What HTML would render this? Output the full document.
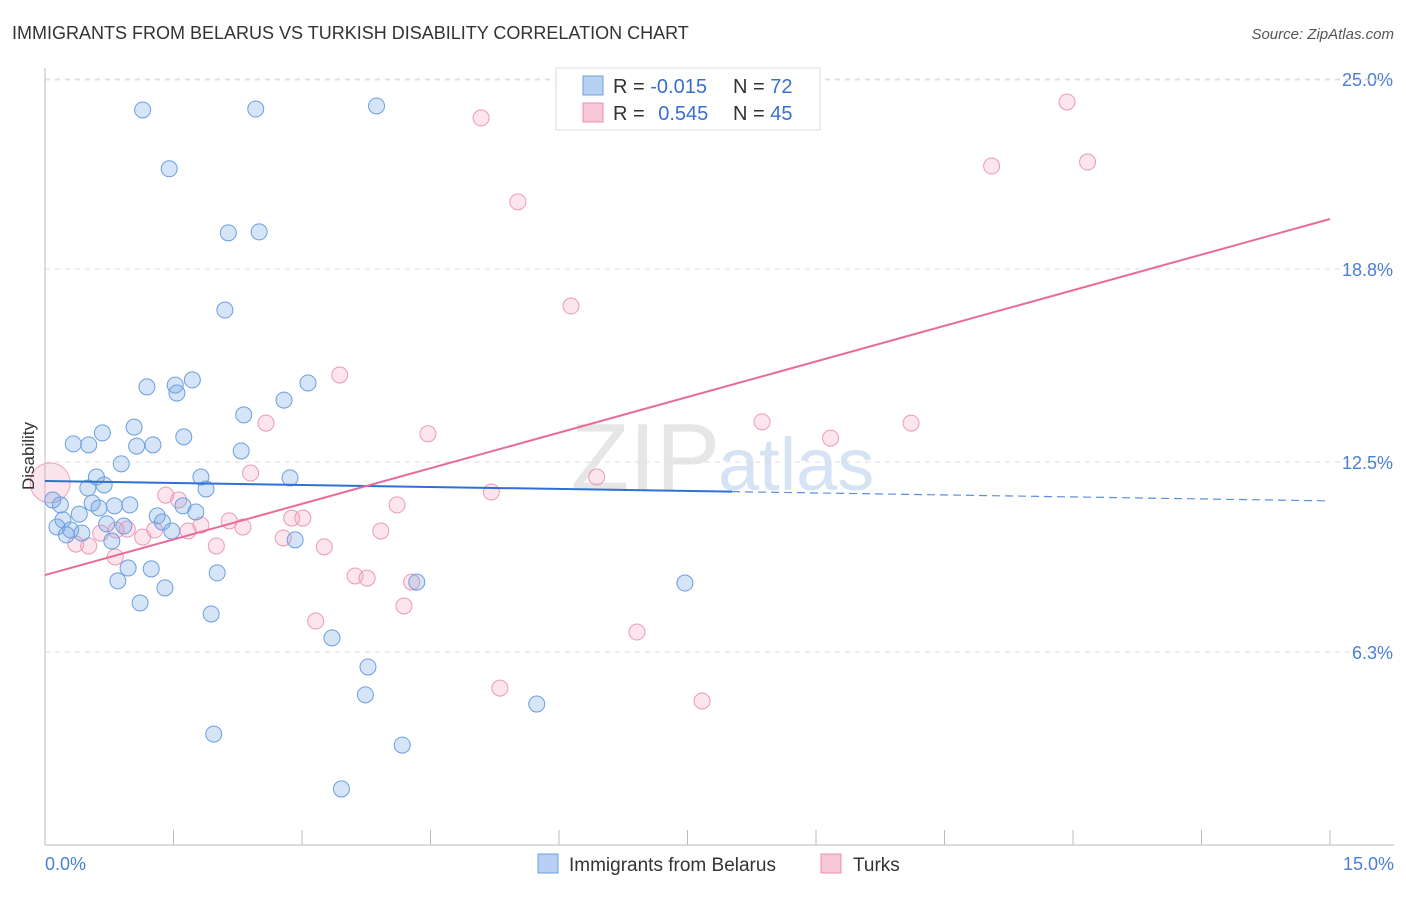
<!DOCTYPE html>
<html><head><meta charset="utf-8"><style>
body{margin:0;background:#fff;font-family:"Liberation Sans",sans-serif}
svg text{font-family:"Liberation Sans",sans-serif}
</style></head><body>
<svg id="chart" width="1406" height="892">
<text x="12" y="39" font-size="18" fill="#333">IMMIGRANTS FROM BELARUS VS TURKISH DISABILITY CORRELATION CHART</text>
<text x="1394" y="39" font-size="15" fill="#555" font-style="italic" text-anchor="end">Source: ZipAtlas.com</text>
<text x="720" y="490" font-size="96" fill="#e6e6e6" text-anchor="end" font-family="Liberation Serif">ZIP</text>
<text x="718" y="490" font-size="74" fill="#d6e3f5">atlas</text>
<g id="grid"></g><g id="axes"></g><g id="pts"></g><g id="trends"></g>
<text x="34" y="456" font-size="17" fill="#333" text-anchor="middle" transform="rotate(-90 34 456)">Disability</text>
<text x="45" y="870" font-size="18" fill="#4a7fd4">0.0%</text>
<text x="1394" y="870" font-size="18" fill="#4a7fd4" text-anchor="end">15.0%</text>
<g>
<rect x="556" y="68" width="264" height="62" fill="#fff" stroke="#ddd"/>
<rect x="583" y="76" width="20" height="19" fill="#b8d0f2" stroke="#6a9fe0"/>
<rect x="583" y="103" width="20" height="19" fill="#f8c8d8" stroke="#e890b0"/>
<text x="613" y="93" font-size="20" fill="#333">R = <tspan fill="#3a6fd0">-0.015</tspan></text>
<text x="733" y="93" font-size="20" fill="#333">N = <tspan fill="#3a6fd0">72</tspan></text>
<text x="613" y="120" font-size="20" fill="#333">R = <tspan fill="#3a6fd0" dx="8">0.545</tspan></text>
<text x="733" y="120" font-size="20" fill="#333">N = <tspan fill="#3a6fd0">45</tspan></text>
</g>
<g>
<rect x="538" y="854" width="20" height="19" fill="#b8d0f2" stroke="#6a9fe0"/>
<text x="569" y="871" font-size="19" fill="#333">Immigrants from Belarus</text>
<rect x="821" y="854" width="20" height="19" fill="#f8c8d8" stroke="#e890b0"/>
<text x="853" y="871" font-size="19" fill="#333">Turks</text>
</g>
</svg>
<script>
const yTicks=[6.3,12.5,18.8,25.0];
const yTickLabels=["6.3%","12.5%","18.8%","25.0%"];
const blueX=[1.14,2.46,3.87,1.45,2.14,2.50,2.10,1.19,1.52,1.72,1.54,3.07,2.79,2.32,1.04,0.67,0.33,0.51,1.07,1.26,1.62,2.29,0.89,0.60,0.69,0.50,1.82,1.88,2.86,0.09,0.18,0.55,0.63,0.81,0.99,1.61,1.76,0.40,0.21,0.14,0.72,0.92,1.31,1.37,1.48,0.30,0.43,0.25,0.78,2.92,0.97,1.24,2.01,0.85,1.40,4.34,7.47,1.11,1.94,3.35,3.77,3.74,5.74,1.97,4.17,3.46,6.08];
const blueY=[23.99,24.02,24.12,22.07,19.98,20.01,17.46,14.95,15.01,15.18,14.75,15.08,14.52,14.04,13.64,13.45,13.09,13.06,13.02,13.06,13.32,12.86,12.44,12.01,11.75,11.65,12.01,11.62,11.98,11.26,11.10,11.16,11.00,11.07,11.10,11.07,10.87,10.80,10.61,10.38,10.48,10.41,10.74,10.54,10.25,10.28,10.18,10.12,9.92,9.96,9.04,9.01,8.88,8.62,8.39,8.58,8.55,7.90,7.54,6.76,5.81,4.90,4.60,3.62,3.26,1.83,24.35];
const pinkX=[5.09,11.93,5.52,11.05,12.17,6.14,3.44,2.58,4.47,8.37,9.17,10.11,2.40,6.44,5.21,1.41,1.56,4.11,3.92,2.88,3.01,2.15,2.31,1.82,1.67,1.28,1.14,0.96,0.65,0.83,0.36,0.51,2.00,2.78,3.26,0.82,3.62,3.76,4.28,4.19,3.16,6.91,5.31,7.67];
const pinkY=[23.73,24.25,20.99,22.16,22.29,17.59,15.34,13.77,13.42,13.81,13.28,13.77,12.14,12.01,11.52,11.42,11.26,11.10,10.25,10.67,10.67,10.58,10.38,10.44,10.25,10.28,10.05,10.31,10.18,10.28,9.82,9.76,9.76,10.02,9.73,9.40,8.78,8.71,8.58,7.80,7.31,6.95,5.12,4.70];
const blueTrend=[11.88,11.23], blueSolidEnd=8.02;
const pinkTrend=[8.81,20.43];
const X0=45,X1=1330,Y0=845,PXY=30.64;
const sx=v=>X0+(X1-X0)*v/15, sy=v=>Y0-v*PXY;
const NS="http://www.w3.org/2000/svg";
function mk(t,a,p){const e=document.createElementNS(NS,t);for(const k in a)e.setAttribute(k,a[k]);p.appendChild(e);return e;}
const grid=document.getElementById('grid'),axes=document.getElementById('axes'),pts=document.getElementById('pts'),tr=document.getElementById('trends');
yTicks.forEach((t,i)=>{
 const l=mk('line',{x1:45,x2:1394,y1:sy(t),y2:sy(t),stroke:'#ddd','stroke-dasharray':'5,5'},grid);
 
 
 const tx=mk('text',{x:1393,y:sy(t)+7,'font-size':18,fill:'#4a7fd4','text-anchor':'end'},grid);
 tx.textContent=yTickLabels[i];
 
 
});
const gtop=mk('line',{x1:45,x2:1394,y1:80,y2:80,stroke:'#e4e4e4','stroke-dasharray':'5,5'},grid);
const ya=mk('line',{x1:45,x2:45,y1:68,y2:845,stroke:'#bbb'},axes);


const xa=mk('line',{x1:45,x2:1394,y1:845,y2:845,stroke:'#bbb'},axes);


for(let i=1;i<=10;i++){const v=i*1.5;
 const t=mk('line',{x1:sx(v),x2:sx(v),y1:830,y2:845,stroke:'#bbb'},axes);
 
 }
const big=mk('circle',{cx:sx(0.06),cy:sy(11.82),r:20,fill:'rgba(240,150,180,0.25)',stroke:'#f0a0bc'},pts);


pinkX.forEach((x,i)=>{const c=mk('circle',{cx:sx(x),cy:sy(pinkY[i]),r:8,fill:'rgba(245,170,195,0.3)',stroke:'#eb9ab6','stroke-width':1},pts);
 
 });
blueX.forEach((x,i)=>{const c=mk('circle',{cx:sx(x),cy:sy(blueY[i]),r:8,fill:'rgba(120,165,230,0.3)',stroke:'#6a9fe0','stroke-width':1},pts);
 
 });
const by=x=>blueTrend[0]+(blueTrend[1]-blueTrend[0])*x/15;
const b1=mk('line',{x1:sx(0),y1:sy(by(0)),x2:sx(blueSolidEnd),y2:sy(by(blueSolidEnd)),stroke:'#2f6fd6','stroke-width':2},tr);


const b2=mk('line',{x1:sx(blueSolidEnd),y1:sy(by(blueSolidEnd)),x2:sx(15),y2:sy(by(15)),stroke:'#5a8fe0','stroke-width':1.2,'stroke-dasharray':'8,5'},tr);


const p1=mk('line',{x1:sx(0),y1:sy(pinkTrend[0]),x2:sx(15),y2:sy(pinkTrend[1]),stroke:'#e86c98','stroke-width':2},tr);


</script>
</body></html>
